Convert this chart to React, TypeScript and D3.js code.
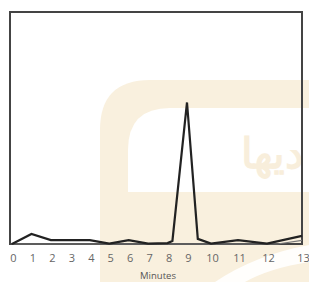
import React from "react";
import * as d3 from "d3";

const minutes = [0, 1, 2, 3, 4, 5, 6, 7, 8, 8.25, 9, 9.45, 10, 11, 12, 13];
const signal = [0, 4.3, 1.7, 1.7, 1.7, 0.2, 1.7, 0.2, 0.4, 1.3, 61, 2.2, 0.2, 1.7, 0.2, 3.5];
const baseMinutes = [0, 12.3, 13];
const baseline = [0, 0, 1.6];
const tickLabels = ["0", "1", "2", "3", "4", "5", "6", "7", "8", "9", "10", "11", "12", "13"];
const xTitle = "Minutes";

export default function App() {
  const W = 309, H = 282;
  const left = 11, right = 302, top = 12, bottom = 244;
  const x = d3.scaleLinear().domain([0, 9, 10, 11, 12, 13]).range([12, 187, 211, 238, 267, right]);
  const y = d3.scaleLinear().domain([0, 100]).range([bottom, top]);
  const line = d3.line<number>().x((_, i) => x(minutes[i])).y((d) => y(d));
  const line2 = d3.line<number>().x((_, i) => x(baseMinutes[i])).y((d) => y(d));
  return (
    <svg width={W} height={H} style={{ position: "absolute", left: 0, top: 0 }}>
      <rect width={W} height={H} fill="#fff" />
      {/* watermark */}
      <path d={`M100,282 L100,130 Q100,80 150,80 L309,80 L309,282 Z`} fill="#f9f0de" />
      <path d={`M128,192 L128,150 Q128,108 170,108 L309,108 L309,192 Z`} fill="#fff" />
      <text x={304} y={168} textAnchor="end" fontFamily="Noto Sans" fontSize={42} fontWeight="bold" fill="#f8eedb">دیها</text>
      <path d="M215,282 Q255,255 309,245 L309,262 Q270,268 245,282 Z" fill="#fff" opacity={0.9} />
      {/* chart */}
      <rect x={left - 1} y={top} width={right - left + 1} height={bottom - top} fill="none" stroke="#444" strokeWidth={2} />
      <path d={line2(baseline) || ""} fill="none" stroke="#777" strokeWidth={1.2} />
      <path d={line(signal) || ""} fill="none" stroke="#222" strokeWidth={2.2} strokeLinejoin="miter" />
      {tickLabels.map((t, i) => (
        <text key={t} x={x(i) + 1.5} y={262} textAnchor="middle" fontFamily="Open Sans" fontSize={11} fill="#666">{t}</text>
      ))}
      <text x={158} y={279} textAnchor="middle" fontFamily="Open Sans" fontSize={9.5} fill="#555">{xTitle}</text>
    </svg>
  );
}
